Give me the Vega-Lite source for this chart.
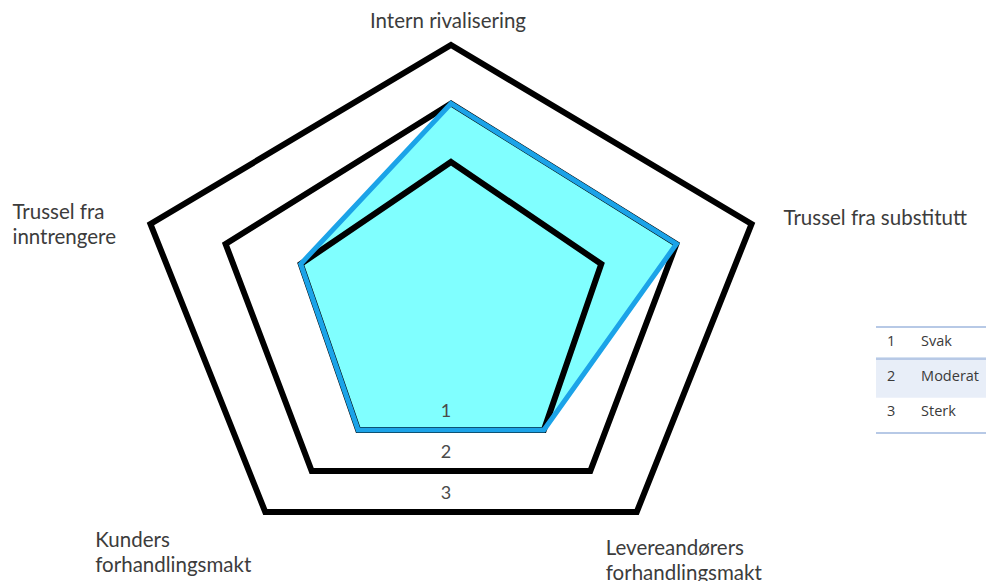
{
  "$schema": "https://vega.github.io/schema/vega-lite/v6.json",
  "width": 986,
  "height": 581,
  "padding": 0,
  "autosize": {"type": "none"},
  "background": "white",
  "config": {"view": {"stroke": null}, "axis": {"disable": true}, "text": {"font": "Lato"}},
  "resolve": {"scale": {"x": "independent", "y": "independent"}},
  "layer": [
    {
      "data": {
        "values": [
          {"kind": "grid", "i": 0, "v": 1}, {"kind": "grid", "i": 1, "v": 1}, {"kind": "grid", "i": 2, "v": 1}, {"kind": "grid", "i": 3, "v": 1}, {"kind": "grid", "i": 4, "v": 1},
          {"kind": "grid", "i": 0, "v": 2}, {"kind": "grid", "i": 1, "v": 2}, {"kind": "grid", "i": 2, "v": 2}, {"kind": "grid", "i": 3, "v": 2}, {"kind": "grid", "i": 4, "v": 2},
          {"kind": "grid", "i": 0, "v": 3}, {"kind": "grid", "i": 1, "v": 3}, {"kind": "grid", "i": 2, "v": 3}, {"kind": "grid", "i": 3, "v": 3}, {"kind": "grid", "i": 4, "v": 3},
          {"kind": "score", "i": 0, "v": 2, "label": "Intern rivalisering"},
          {"kind": "score", "i": 1, "v": 2, "label": "Trussel fra substitutt"},
          {"kind": "score", "i": 2, "v": 1, "label": "Levereandørers\nforhandlingsmakt"},
          {"kind": "score", "i": 3, "v": 1, "label": "Kunders\nforhandlingsmakt"},
          {"kind": "score", "i": 4, "v": 1, "label": "Trussel fra\ninntrengere"},
          {"kind": "label", "i": 0, "v": 3, "label": "Intern rivalisering"},
          {"kind": "label", "i": 1, "v": 3, "label": "Trussel fra substitutt"},
          {"kind": "label", "i": 2, "v": 3, "label": "Levereandørers\nforhandlingsmakt"},
          {"kind": "label", "i": 3, "v": 3, "label": "Kunders\nforhandlingsmakt"},
          {"kind": "label", "i": 4, "v": 3, "label": "Trussel fra\ninntrengere"}
        ]
      },
      "transform": [
        {"calculate": "datum.i * 2 * PI / 5", "as": "ang"},
        {"calculate": "sin(datum.ang) * (datum.v + 1)", "as": "px"},
        {"calculate": "cos(datum.ang) * (datum.v + 1)", "as": "py"}
      ],
      "encoding": {
        "x": {"field": "px", "type": "quantitative", "scale": {"domain": [-1, 1], "range": [372, 530], "nice": false, "zero": false}},
        "y": {"field": "py", "type": "quantitative", "scale": {"domain": [-3.2361, -1.618, 0.618, 1.2361, 2, 4], "range": [512, 430, 264, 224, 162, 45], "nice": false, "zero": false}}
      },
      "layer": [
        {
          "transform": [{"filter": "datum.kind === 'score'"}],
          "mark": {"type": "line", "interpolate": "linear-closed", "fill": "#80ffff", "stroke": null, "strokeWidth": 0},
          "encoding": {"order": {"field": "i", "type": "quantitative"}}
        },
        {
          "transform": [{"filter": "datum.kind === 'grid'"}],
          "mark": {"type": "line", "interpolate": "linear-closed", "color": "#000000", "strokeWidth": 6, "strokeJoin": "miter"},
          "encoding": {"detail": {"field": "v", "type": "nominal"}, "order": {"field": "i", "type": "quantitative"}}
        },
        {
          "transform": [{"filter": "datum.kind === 'score'"}],
          "mark": {"type": "line", "interpolate": "linear-closed", "color": "#1ba3e8", "strokeWidth": 5, "strokeJoin": "miter"},
          "encoding": {"order": {"field": "i", "type": "quantitative"}}
        },
        {
          "transform": [
            {"filter": "datum.kind === 'grid' && (datum.i === 2 || datum.i === 3)"},
            {"aggregate": [{"op": "mean", "field": "px", "as": "px"}, {"op": "mean", "field": "py", "as": "py"}], "groupby": ["v"]}
          ],
          "mark": {"type": "text", "fontSize": 18, "color": "#4a4a4a", "dx": -5, "dy": -13, "baseline": "alphabetic"},
          "encoding": {"text": {"field": "v", "type": "nominal"}}
        },
        {
          "transform": [{"filter": "datum.kind === 'label' && datum.i === 0"}],
          "mark": {"type": "text", "fontSize": 20.5, "color": "#3c3c3c", "align": "center", "baseline": "alphabetic", "dx": -3, "dy": -17, "lineBreak": "\n", "lineHeight": 25},
          "encoding": {"text": {"field": "label"}}
        },
        {
          "transform": [{"filter": "datum.kind === 'label' && datum.i === 1"}],
          "mark": {"type": "text", "fontSize": 20.5, "color": "#3c3c3c", "align": "left", "baseline": "alphabetic", "dx": 32, "dy": 1, "lineBreak": "\n", "lineHeight": 25},
          "encoding": {"text": {"field": "label"}}
        },
        {
          "transform": [{"filter": "datum.kind === 'label' && datum.i === 2"}],
          "mark": {"type": "text", "fontSize": 20.5, "color": "#3c3c3c", "align": "left", "baseline": "alphabetic", "dx": -31, "dy": 43, "lineBreak": "\n", "lineHeight": 25},
          "encoding": {"text": {"field": "label"}}
        },
        {
          "transform": [{"filter": "datum.kind === 'label' && datum.i === 3"}],
          "mark": {"type": "text", "fontSize": 20.5, "color": "#3c3c3c", "align": "left", "baseline": "alphabetic", "dx": -170, "dy": 35, "lineBreak": "\n", "lineHeight": 25},
          "encoding": {"text": {"field": "label"}}
        },
        {
          "transform": [{"filter": "datum.kind === 'label' && datum.i === 4"}],
          "mark": {"type": "text", "fontSize": 20.5, "color": "#3c3c3c", "align": "left", "baseline": "alphabetic", "dx": -138, "dy": -5, "lineBreak": "\n", "lineHeight": 25},
          "encoding": {"text": {"field": "label"}}
        }
      ]
    },
    {
      "data": {
        "values": [
          {"level": 1, "name": "Svak"},
          {"level": 2, "name": "Moderat"},
          {"level": 3, "name": "Sterk"}
        ]
      },
      "layer": [
        {
          "transform": [{"filter": "datum.level % 2 === 0"}],
          "mark": {"type": "rect", "color": "#e8eef8"},
          "encoding": {
            "x": {"datum": 0, "type": "quantitative", "scale": {"domain": [0, 1], "range": [876, 986], "nice": false, "zero": false}},
            "x2": {"datum": 1},
            "y": {"datum": 1.4, "type": "quantitative", "scale": {"domain": [0.5, 3.5], "range": [327, 433], "nice": false, "zero": false}},
            "y2": {"datum": 2.5}
          }
        },
        {
          "mark": {"type": "rule", "color": "#b7c9e6", "strokeWidth": 2},
          "encoding": {"x": {"datum": 0, "type": "quantitative"}, "x2": {"datum": 1}, "y": {"datum": 0.5, "type": "quantitative"}}
        },
        {
          "mark": {"type": "rule", "color": "#b7c9e6", "strokeWidth": 2},
          "encoding": {"x": {"datum": 0, "type": "quantitative"}, "x2": {"datum": 1}, "y": {"datum": 1.4, "type": "quantitative"}}
        },
        {
          "mark": {"type": "rule", "color": "#b7c9e6", "strokeWidth": 2},
          "encoding": {"x": {"datum": 0, "type": "quantitative"}, "x2": {"datum": 1}, "y": {"datum": 3.5, "type": "quantitative"}}
        },
        {
          "mark": {"type": "text", "fontSize": 14.5, "color": "#3a3a3a", "align": "left", "baseline": "middle", "dy": -3, "font": "Open Sans"},
          "encoding": {"x": {"datum": 0.1, "type": "quantitative"}, "y": {"field": "level", "type": "quantitative"}, "text": {"field": "level", "type": "nominal"}}
        },
        {
          "mark": {"type": "text", "fontSize": 14.5, "color": "#3a3a3a", "align": "left", "baseline": "middle", "dy": -3, "font": "Open Sans"},
          "encoding": {"x": {"datum": 0.41, "type": "quantitative"}, "y": {"field": "level", "type": "quantitative"}, "text": {"field": "name", "type": "nominal"}}
        }
      ]
    }
  ]
}
